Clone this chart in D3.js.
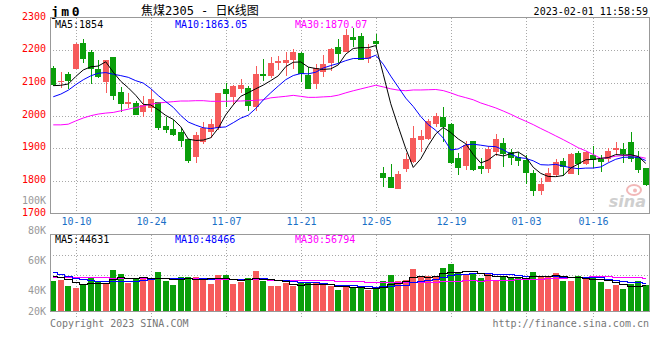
<!DOCTYPE html>
<html><head><meta charset="utf-8">
<script src="https://cdn.jsdelivr.net/npm/d3@7"></script>
<style>html,body{margin:0;padding:0;background:#fff;}svg{display:block}</style>
</head><body>
<svg id="c" width="660" height="360"></svg>
<script>
const dates = ["09-28","09-29","09-30",
 "10-10","10-11","10-12","10-13","10-14","10-17","10-18","10-19","10-20","10-21","10-24","10-25","10-26","10-27","10-28","10-31",
 "11-01","11-02","11-03","11-04","11-07","11-08","11-09","11-10","11-11","11-14","11-15","11-16","11-17","11-18","11-21","11-22","11-23","11-24","11-25","11-28","11-29","11-30",
 "12-01","12-02","12-05","12-06","12-07","12-08","12-09","12-12","12-13","12-14","12-15","12-16","12-19","12-20","12-21","12-22","12-23","12-26","12-27","12-28","12-29","12-30",
 "01-03","01-04","01-05","01-06","01-09","01-10","01-11","01-12","01-13","01-16","01-17","01-18","01-19","01-20","01-30","01-31","02-01"];
const open  = [2147,2103,2128,2144,2222,2196,2143,2104,2180,2073,2036,2039,2010,2023,2041,1969,1959,1950,1928,1875,
               1918,1949,1962,2082,2058,2082,2085,2028,2129,2122,2160,2162,2170,2192,2125,2097,2135,2160,2210,2196,
               2241,2243,2173,2230,1825,1812,1777,1837,1857,1926,1928,1975,1996,1974,1869,1847,1922,1846,1838,1890,
               1916,1888,1875,1864,1825,1768,1798,1820,1861,1823,1887,1853,1879,1868,1867,1895,1898,1919,1874,1840];
const close = [2094,2105,2106,2220,2175,2142,2117,2171,2061,2036,2042,2002,2033,2051,1962,1956,1941,1922,1861,1941,
               1962,1976,2068,2067,2092,2094,2031,2128,2123,2161,2167,2172,2195,2128,2082,2145,2158,2204,2188,2247,
               2232,2171,2203,2221,1808,1780,1821,1867,1932,1939,1984,1999,1966,1854,1841,1910,1835,1837,1898,1929,
               1884,1872,1861,1825,1768,1791,1825,1858,1842,1883,1853,1890,1863,1859,1893,1900,1884,1866,1833,1787];
const high  = [2152,2135,2135,2222,2235,2201,2171,2172,2181,2088,2068,2045,2060,2081,2042,1996,1987,1962,1930,1949,
               1982,1990,2070,2099,2094,2111,2092,2152,2174,2180,2183,2195,2203,2195,2148,2158,2186,2206,2234,2265,
               2270,2254,2218,2250,1842,1852,1832,1885,1968,1956,1989,2007,2026,1979,1886,1923,1923,1869,1908,1944,
               1932,1897,1888,1880,1833,1808,1839,1868,1870,1887,1892,1892,1907,1880,1900,1920,1915,1951,1892,1841];
const low   = [2091,2086,2082,2142,2162,2097,2114,2070,2049,2010,2023,2001,1997,2012,1956,1948,1938,1904,1856,1854,
               1913,1933,1955,2028,2033,2068,2015,2015,2107,2114,2140,2122,2142,2104,2081,2081,2118,2137,2160,2195,
               2210,2170,2162,2208,1782,1779,1776,1829,1856,1890,1927,1964,1920,1852,1820,1835,1831,1823,1826,1876,
               1843,1849,1847,1790,1755,1757,1797,1813,1815,1822,1820,1849,1839,1827,1859,1880,1854,1857,1824,1786];
const volume = [51150,52855,42625,39215,45470,57970,49445,47170,69905,63085,48300,55700,56265,53990,66495,51150,44330,57970,57970,58535,
                56830,46035,61380,61380,46035,50010,56265,68200,51715,42625,42625,47740,43190,48300,47170,47170,44330,42625,35805,41485,
                39215,42625,36370,39215,51150,61380,51150,52855,71610,58535,59675,57970,73315,80135,64790,61380,63085,56265,64790,52855,
                59675,57970,58535,54560,66495,59675,59675,64790,51150,51150,59675,56265,57970,49445,37510,44330,37510,46035,51150,44330];
// moving-average values before enough bars are visible
const ma5Prefix  = [2092,2093,2097,2120];
const ma10Prefix = [2058,2066,2078,2095,2110,2122,2130,2132,2127];
const ma30Prefix = [1972,1972,1974,1984,1993,2000,2005,2008,2010,2015,2020,2025,2030,2035,2039,2041,2043,2045,2045,2046,2046,2044,2044,2044,2045,2045,2046,2047,2049];
const volMa5Prefix  = [59700,58000,54500,50000];
const volMa10Prefix = [65930,63085,59675,55700,53990,52855,51715,51150,51150];
const volMa30Prefix = [57400,57400,57400,57400,57400,57400,57400,57400,57100,57100,57100,57100,57100,57100,56800,56800,56800,56800,56800,56300,56000,55700,55400,55100,54800,54500,54200,54000,53800];

const priceTicks = [2300,2200,2100,2000,1900,1800,1700];
const dateTicks = ["10-10","10-24","11-07","11-21","12-05","12-19","01-03","01-16"];
const volTickLabels = [80000,60000,40000,20000];
const volGrid = [95000,61000];
const maLabels = ["MA5:1854","MA10:1863.05","MA30:1870.07"];
const volMaLabels = ["MA5:44631","MA10:48466","MA30:56794"];
const maColors = ["#000000","#0000ff","#ff00ff"];
const titleCode = "jm0";
const titleText = "焦煤2305 - 日K线图";
const timeText = "2023-02-01 11:58:59";

const RED = "#f65b5b", GREEN = "#0a9e0a";
const MONO = "'DejaVu Sans Mono', monospace";
const svg = d3.select("#c");
svg.append("rect").attr("width",660).attr("height",360).attr("fill","#fff");

const n = close.length;
const x = d3.scaleBand().domain(d3.range(n)).range([49.5, 649.5]).paddingInner(0.2).paddingOuter(0.1);
const cx = i => x(i) + x.bandwidth()/2;
const y = d3.scaleLinear().domain([1700, 2300]).range([213.7, 17.7]);
const yv = d3.scaleLinear().domain([0, 130770]).range([311, 234.3]);
const yvLabel = d3.scaleLinear().domain([80000, 20000]).range([230.7, 320.7]);

function ma(arr, k, prefix) {
  return arr.map((_, i) => i < k - 1 ? prefix[i] : d3.mean(arr.slice(i - k + 1, i + 1)));
}
const dateIdx = dateTicks.map(d => dates.indexOf(d));
const gx = i => Math.round(cx(i)) + 0.5;

// ---------- header ----------
svg.append("text").attr("x",51).attr("y",11).attr("dominant-baseline","central")
  .attr("font-family",MONO).attr("font-weight","bold").attr("font-size",13).attr("letter-spacing",2.5)
  .attr("fill","#000").text(titleCode);
svg.append("text").attr("x",141).attr("y",11).attr("dominant-baseline","central")
  .attr("font-family","'DejaVu Sans Mono','Noto Sans CJK SC',monospace").attr("font-size",12)
  .attr("fill","#000").text(titleText);
svg.append("text").attr("x",648).attr("y",11.5).attr("dominant-baseline","central").attr("text-anchor","end")
  .attr("font-family",MONO).attr("font-size",10).attr("fill","#000").text(timeText);

// ---------- main panel grid ----------
const gm = svg.append("g").attr("shape-rendering","crispEdges");
gm.selectAll("line.h").data(priceTicks.slice(1, -1)).join("line")
  .attr("x1",50).attr("x2",649).attr("y1",d => Math.round(y(d))+0.5).attr("y2",d => Math.round(y(d))+0.5)
  .attr("stroke","#a8a8a8").attr("stroke-dasharray","1,2");
gm.selectAll("line.v").data(dateIdx).join("line")
  .attr("x1",gx).attr("x2",gx).attr("y1",18).attr("y2",213)
  .attr("stroke","#a8a8a8").attr("stroke-dasharray","1,2");

// price labels
svg.selectAll("text.p").data(priceTicks).join("text")
  .attr("x",46).attr("y",d => y(d) - 1.5).attr("text-anchor","end").attr("dominant-baseline","central")
  .attr("font-family",MONO).attr("font-size",10).attr("fill","#f00").text(d => d);
svg.append("text").attr("x",46).attr("y",y(1700) - 13.5).attr("text-anchor","end").attr("dominant-baseline","central")
  .attr("font-family",MONO).attr("font-size",10).attr("fill","#999").text("100K");

// date labels
svg.selectAll("text.d").data(dateIdx).join("text")
  .attr("x",gx).attr("y",221.5).attr("text-anchor","middle").attr("dominant-baseline","central")
  .attr("font-family",MONO).attr("font-size",10).attr("fill","#1a6fc6").text((d,k) => dateTicks[k]);

// watermark
const wm = svg.append("g");
wm.append("ellipse").attr("cx",634).attr("cy",190).attr("rx",7).attr("ry",5).attr("fill","none").attr("stroke","#f2b8b8").attr("stroke-width",2);
wm.append("circle").attr("cx",635).attr("cy",190.5).attr("r",2).attr("fill","#f2b8b8");
wm.append("text").attr("x",646).attr("y",207).attr("text-anchor","end").attr("font-family","'DejaVu Sans',sans-serif")
  .attr("font-weight","bold").attr("font-style","italic").attr("font-size",16).attr("fill","#cfcfcf").text("sina");

// candles
const cg = svg.append("g").attr("shape-rendering","crispEdges");
const idx = d3.range(n);
const isUp = i => close[i] >= open[i];
cg.selectAll("line.w").data(idx).join("line")
  .attr("x1",gx).attr("x2",gx).attr("y1",i => y(high[i])).attr("y2",i => y(low[i]))
  .attr("stroke",i => isUp(i) ? RED : GREEN).attr("stroke-width",1);
cg.selectAll("rect.b").data(idx).join("rect")
  .attr("x",i => Math.round(x(i))).attr("width",Math.round(x.bandwidth()))
  .attr("y",i => y(Math.max(open[i], close[i])))
  .attr("height",i => Math.max(1, Math.abs(y(open[i]) - y(close[i]))))
  .attr("fill",i => isUp(i) ? RED : GREEN);

// MA lines
const mas = [ma(close,5,ma5Prefix), ma(close,10,ma10Prefix), ma(close,30,ma30Prefix)];
const lineP = d3.line().x((d,i) => cx(i)).y(d => y(d));
[2,1,0].forEach(k => {
  svg.append("path").attr("d", lineP(mas[k])).attr("fill","none").attr("stroke",maColors[k]).attr("stroke-width",1);
});

// main frame
svg.append("rect").attr("x",50.5).attr("y",17.5).attr("width",599).attr("height",196)
  .attr("fill","none").attr("stroke","#999").attr("shape-rendering","crispEdges");
maLabels.forEach((t,k) => {
  svg.append("text").attr("x",55 + k*120).attr("y",24.5).attr("dominant-baseline","central")
    .attr("font-family",MONO).attr("font-size",10).attr("fill",maColors[k]).text(t);
});

// ---------- volume panel ----------
const gv = svg.append("g").attr("shape-rendering","crispEdges");
gv.selectAll("line.h").data(volGrid).join("line")
  .attr("x1",50).attr("x2",649).attr("y1",d => Math.round(yv(d))+0.5).attr("y2",d => Math.round(yv(d))+0.5)
  .attr("stroke","#a8a8a8").attr("stroke-dasharray","1,2");
gv.selectAll("line.v").data(dateIdx).join("line")
  .attr("x1",gx).attr("x2",gx).attr("y1",235).attr("y2",318)
  .attr("stroke","#a8a8a8").attr("stroke-dasharray","1,2");
svg.selectAll("text.vl").data(volTickLabels).join("text")
  .attr("x",46).attr("y",d => Math.min(311, yvLabel(d))).attr("text-anchor","end").attr("dominant-baseline","central")
  .attr("font-family",MONO).attr("font-size",10).attr("fill","#999").text(d => (d/1000) + "K");

gv.selectAll("rect.vb").data(idx).join("rect")
  .attr("x",i => Math.round(x(i))).attr("width",Math.round(x.bandwidth()))
  .attr("y",i => yv(volume[i])).attr("height",i => yv(0) - yv(volume[i]))
  .attr("fill",i => isUp(i) ? RED : GREEN);

const vmas = [ma(volume,5,volMa5Prefix), ma(volume,10,volMa10Prefix), ma(volume,30,volMa30Prefix)];
const lineV = d3.line().x((d,i) => cx(i)).y(d => Math.round(yv(d))+0.5).curve(d3.curveStep);
[2,1,0].forEach(k => {
  svg.append("path").attr("d", lineV(vmas[k])).attr("fill","none").attr("stroke",maColors[k]).attr("stroke-width",1)
    .attr("shape-rendering","crispEdges");
});
svg.append("rect").attr("x",50.5).attr("y",234.5).attr("width",599).attr("height",76.5)
  .attr("fill","none").attr("stroke","#999").attr("shape-rendering","crispEdges");
volMaLabels.forEach((t,k) => {
  svg.append("text").attr("x",55 + k*120).attr("y",239).attr("dominant-baseline","central")
    .attr("font-family",MONO).attr("font-size",10).attr("fill",maColors[k]).text(t);
});

// footer
svg.append("text").attr("x",50).attr("y",323.5).attr("dominant-baseline","central")
  .attr("font-family",MONO).attr("font-size",10).attr("fill","#777").text("Copyright 2023 SINA.COM");
svg.append("text").attr("x",649).attr("y",323.5).attr("dominant-baseline","central").attr("text-anchor","end")
  .attr("font-family",MONO).attr("font-size",10).attr("fill","#777").text("http://finance.sina.com.cn");
</script>
</body></html>
